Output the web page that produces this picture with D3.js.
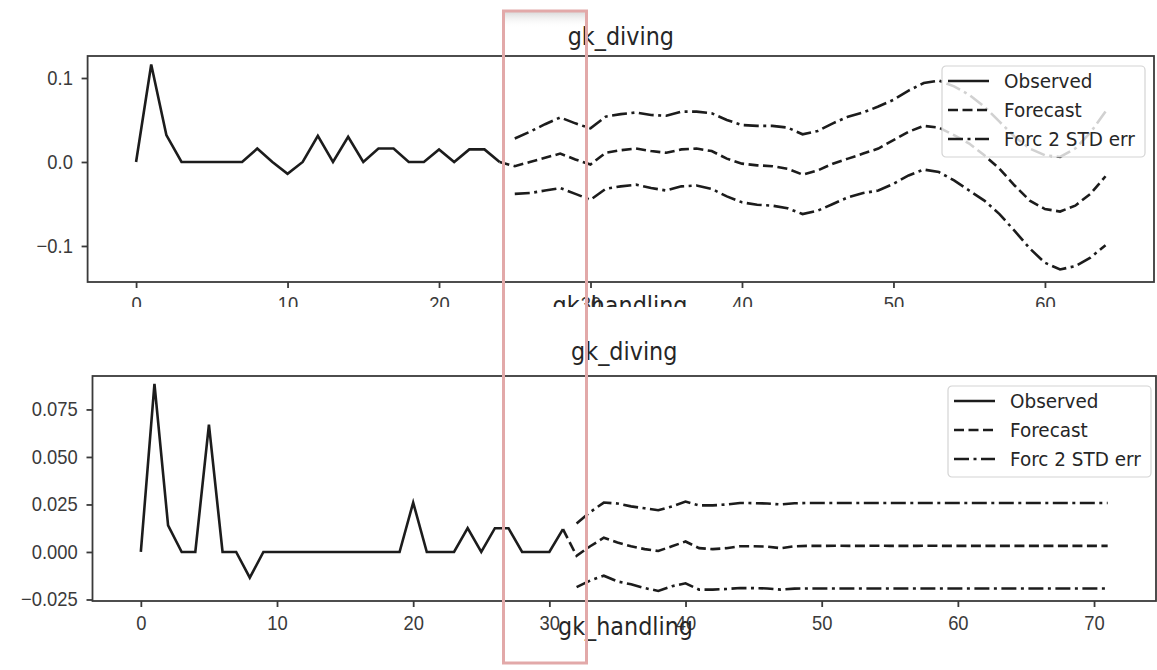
<!DOCTYPE html>
<html>
<head>
<meta charset="utf-8">
<script src="https://cdn.jsdelivr.net/npm/d3@7"></script>
<style>
  body { margin: 0; background: #fff; }
  svg { display: block; font-family: "DejaVu Sans", sans-serif; }
  .axis path, .axis line { stroke: #3a3a3a; stroke-width: 1.8; }
  .axis text { fill: #3a3a3a; font-size: 20px; }
</style>
</head>
<body>
<script>
// ---- gk_diving, first figure ----
var divingObserved = [0, 0.116, 0.032, 0, 0, 0, 0, 0, 0.016, 0, -0.014, 0, 0.031, 0, 0.030,
                      0, 0.016, 0.016, 0, 0, 0.015, 0, 0.015, 0.015, 0];
var divingFcStart = 24;
var divingForecast = [0.000, -0.005, 0.000, 0.005, 0.010, 0.003, -0.003, 0.011, 0.014, 0.016,
                      0.013, 0.011, 0.015, 0.016, 0.013, 0.004, -0.002, -0.004, -0.005, -0.008,
                      -0.015, -0.010, -0.002, 0.004, 0.010, 0.016, 0.026, 0.036, 0.043, 0.041,
                      0.032, 0.022, 0.008, -0.008, -0.028, -0.046, -0.056, -0.059, -0.052, -0.038,
                      -0.017];
var divingBandStart = 25;
var divingUpper = [0.028, 0.036, 0.045, 0.053, 0.046, 0.040, 0.054, 0.057, 0.059, 0.056,
                   0.055, 0.060, 0.060, 0.058, 0.050, 0.044, 0.043, 0.043, 0.041, 0.033,
                   0.037, 0.046, 0.054, 0.059, 0.066, 0.074, 0.085, 0.094, 0.097, 0.090,
                   0.080, 0.066, 0.048, 0.030, 0.016, 0.008, 0.006, 0.016, 0.035, 0.060];
var divingLower = [-0.038, -0.037, -0.034, -0.031, -0.038, -0.045, -0.032, -0.029, -0.027, -0.031,
                   -0.034, -0.029, -0.028, -0.032, -0.041, -0.048, -0.051, -0.052, -0.055, -0.062,
                   -0.058, -0.050, -0.042, -0.037, -0.034, -0.026, -0.016, -0.009, -0.012, -0.022,
                   -0.034, -0.046, -0.062, -0.082, -0.103, -0.120, -0.128, -0.124, -0.114, -0.099];

// ---- gk_diving, second figure (handling series) ----
var handlingObserved = [0, 0.0885, 0.014, 0, 0, 0.067, 0, 0, -0.0135, 0,
                        0, 0, 0, 0, 0, 0, 0, 0, 0, 0,
                        0.026, 0, 0, 0, 0.0125, 0, 0.0125, 0.0125, 0, 0,
                        0, 0.012];
var handlingFcStart = 31;
var handlingForecast = [0.012, -0.002, 0.003, 0.0075, 0.005, 0.003, 0.0015, 0.0005, 0.003, 0.0055,
                        0.002, 0.0015, 0.002, 0.003, 0.003, 0.0028, 0.002, 0.003, 0.0032, 0.0032,
                        0.0033, 0.0032, 0.0032, 0.0033, 0.0032, 0.0032, 0.0032, 0.0033, 0.0032, 0.0032,
                        0.0032, 0.0032, 0.0032, 0.0032, 0.0032, 0.0032, 0.0032, 0.0032, 0.0032, 0.0032,
                        0.0032];
var handlingBandStart = 32;
var handlingUpper = [0.015, 0.021, 0.026, 0.0255, 0.024, 0.023, 0.022, 0.024, 0.0265, 0.0245,
                     0.0245, 0.025, 0.0258, 0.0257, 0.0255, 0.025, 0.0256, 0.0258, 0.0258, 0.0258,
                     0.0258, 0.0258, 0.0258, 0.0258, 0.0258, 0.0258, 0.0258, 0.0258, 0.0258, 0.0258,
                     0.0258, 0.0258, 0.0258, 0.0258, 0.0258, 0.0258, 0.0258, 0.0258, 0.0258, 0.0258];
var handlingLower = [-0.0185, -0.015, -0.0125, -0.0155, -0.017, -0.019, -0.0205, -0.018, -0.0165, -0.0198,
                     -0.0198, -0.0195, -0.019, -0.019, -0.0192, -0.0198, -0.0193, -0.0192, -0.0192, -0.0192,
                     -0.0192, -0.0192, -0.0192, -0.0192, -0.0192, -0.0192, -0.0192, -0.0192, -0.0192, -0.0192,
                     -0.0192, -0.0192, -0.0192, -0.0192, -0.0192, -0.0192, -0.0192, -0.0192, -0.0192, -0.0192];

// ticks and labels
var topXTicks = [0, 10, 20, 30, 40, 50, 60];
var topYTicks = [-0.1, 0.0, 0.1];
var botXTicks = [0, 10, 20, 30, 40, 50, 60, 70];
var botYTicks = [-0.025, 0, 0.025, 0.05, 0.075];
var legendLabels = ["Observed", "Forecast", "Forc 2 STD err"];
var titleText = "gk_diving";
var nextTitleText = "gk_handling";

var W = 1157, H = 670;
var ink = "#1c1c1c";
var dashFc = "10,4.5";
var dashErr = "15,4.5,3,4.5";

var svg = d3.select("body").append("svg").attr("width", W).attr("height", H);

svg.append("defs").append("clipPath").attr("id", "cutTop")
   .append("rect").attr("x", 0).attr("y", 0).attr("width", W).attr("height", 307);

function toPts(arr, start) {
    return arr.map(function(v, i) { return {x: start + i, y: v}; });
}

function scaledText(g, x, y, size, sx, txt) {
    return g.append("text")
        .attr("transform", "translate(" + x + "," + y + ") scale(" + sx + ",1)")
        .attr("text-anchor", "middle")
        .style("font-size", size + "px")
        .style("fill", "#262626")
        .text(txt);
}

function panel(g, c) {
    var xScale = d3.scaleLinear().domain(c.xDomain).range([c.left, c.right]);
    var yScale = d3.scaleLinear().domain(c.yDomain).range([c.bottom, c.top]);

    var xAxis = d3.axisBottom(xScale).tickValues(c.xTicks).tickFormat(d3.format("d"))
        .tickSize(6).tickSizeOuter(0).tickPadding(9);
    var yAxis = d3.axisLeft(yScale).tickValues(c.yTicks).tickFormat(d3.format(c.yFmt))
        .tickSize(6).tickSizeOuter(0).tickPadding(10);

    g.append("g").attr("class", "axis")
        .attr("transform", "translate(0," + c.bottom + ")")
        .call(xAxis)
        .selectAll("text").attr("transform", "scale(0.92,1)");
    g.append("g").attr("class", "axis")
        .attr("transform", "translate(" + c.left + ",0)")
        .call(yAxis)
        .selectAll("text").attr("transform", "scale(0.92,1)");

    g.selectAll(".axis .domain").remove();

    var line = d3.line()
        .x(function(d) { return xScale(d.x); })
        .y(function(d) { return yScale(d.y); })
        .curve(d3.curveLinear);

    g.append("path").attr("d", line(toPts(c.obs, 0)))
        .attr("fill", "none").attr("stroke", ink).attr("stroke-width", 2.6)
        .attr("stroke-linejoin", "miter");
    g.append("path").attr("d", line(toPts(c.fc, c.fcStart)))
        .attr("fill", "none").attr("stroke", ink).attr("stroke-width", 2.6)
        .attr("stroke-dasharray", dashFc);
    g.append("path").attr("d", line(toPts(c.up, c.bandStart)))
        .attr("fill", "none").attr("stroke", ink).attr("stroke-width", 2.6)
        .attr("stroke-dasharray", dashErr);
    g.append("path").attr("d", line(toPts(c.lo, c.bandStart)))
        .attr("fill", "none").attr("stroke", ink).attr("stroke-width", 2.6)
        .attr("stroke-dasharray", dashErr);

    // frame
    g.append("rect")
        .attr("x", c.left).attr("y", c.top)
        .attr("width", c.right - c.left).attr("height", c.bottom - c.top)
        .attr("fill", "none").attr("stroke", "#3a3a3a").attr("stroke-width", 1.8);

    // legend
    var lg = g.append("g").attr("transform", "translate(" + (c.right - c.legInset - 203) + "," + (c.top + 10) + ")");
    lg.append("rect").attr("width", 203).attr("height", 91).attr("rx", 4)
        .attr("fill", "#fff").attr("fill-opacity", 0.8)
        .attr("stroke", "#d4d4d4").attr("stroke-width", 1.2);
    var dashes = [null, dashFc, dashErr];
    legendLabels.forEach(function(lab, i) {
        var yy = 15 + i * 29;
        lg.append("line").attr("x1", 6).attr("x2", 47).attr("y1", yy).attr("y2", yy)
            .attr("stroke", ink).attr("stroke-width", 2.6)
            .attr("stroke-dasharray", dashes[i]);
        lg.append("text")
            .attr("transform", "translate(62," + (yy + 7) + ") scale(0.92,1)")
            .style("font-size", "20px").style("fill", "#262626")
            .text(lab);
    });

    scaledText(g, (c.left + c.right) / 2, c.titleY, 24, 0.93, titleText);
}

// top figure (cut off below y=307)
var topFig = svg.append("g").attr("clip-path", "url(#cutTop)");
panel(topFig, {
    left: 87.6, right: 1154, top: 56, bottom: 282,
    xDomain: [-3.2, 67.2], yDomain: [-0.1429, 0.1262],
    xTicks: topXTicks, yTicks: topYTicks, yFmt: ".1f",
    obs: divingObserved, fc: divingForecast, fcStart: divingFcStart,
    up: divingUpper, lo: divingLower, bandStart: divingBandStart,
    legInset: 9, titleY: 45
});
scaledText(topFig, 620, 314, 24, 0.93, nextTitleText);

// second figure
var botFig = svg.append("g");
panel(botFig, {
    left: 92.5, right: 1156, top: 376, bottom: 601,
    xDomain: [-3.55, 74.55], yDomain: [-0.0258, 0.0926],
    xTicks: botXTicks, yTicks: botYTicks, yFmt: ".3f",
    obs: handlingObserved, fc: handlingForecast, fcStart: handlingFcStart,
    up: handlingUpper, lo: handlingLower, bandStart: handlingBandStart,
    legInset: 5, titleY: 360
});
scaledText(botFig, 625.5, 635, 24, 0.93, nextTitleText);

// highlight box drawn over the screenshot
var grad = svg.select("defs").append("linearGradient").attr("id", "shade")
    .attr("x1", 0).attr("y1", 0).attr("x2", 0).attr("y2", 1);
grad.append("stop").attr("offset", "0%").attr("stop-color", "#d6d6d6").attr("stop-opacity", 0.9);
grad.append("stop").attr("offset", "100%").attr("stop-color", "#ffffff").attr("stop-opacity", 0);
svg.append("rect").attr("x", 505).attr("y", 12).attr("width", 80).attr("height", 16)
    .attr("fill", "url(#shade)");
svg.append("rect").attr("x", 503.5).attr("y", 11).attr("width", 83).attr("height", 652)
    .attr("fill", "none").attr("stroke", "#e2a9a9").attr("stroke-width", 3);
</script>
</body>
</html>
